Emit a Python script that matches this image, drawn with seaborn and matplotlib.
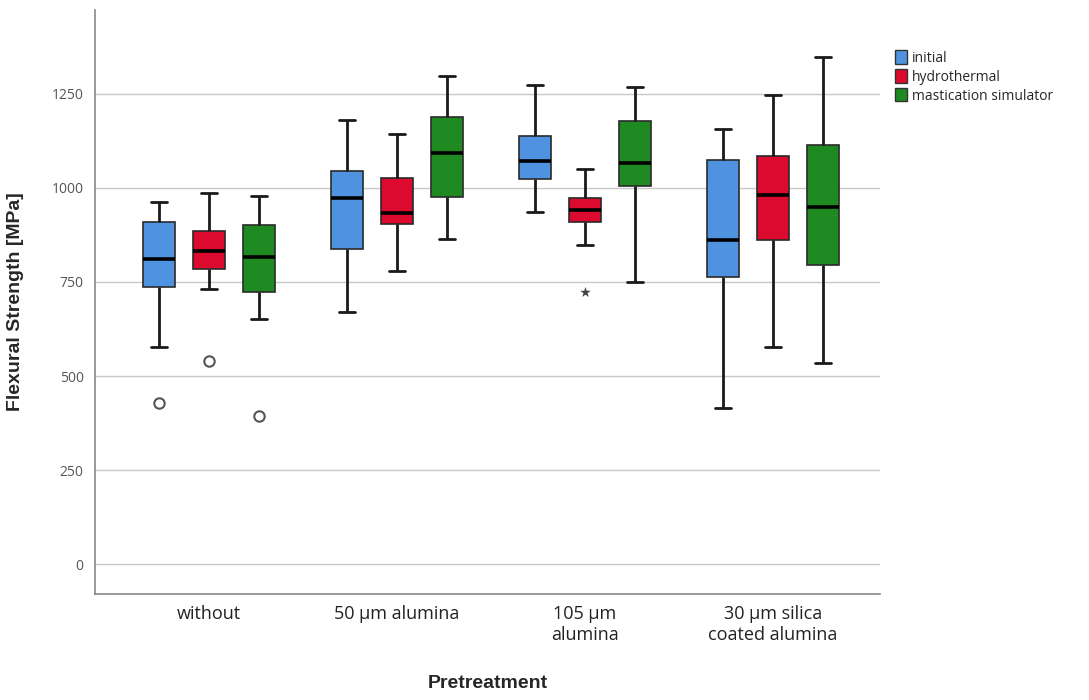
import pandas as pd
import matplotlib
matplotlib.use("Agg")
import matplotlib.pyplot as plt
import seaborn as sns
from matplotlib.patches import Patch

pretreatments = ["without", "50 µm alumina", "105 µm\nalumina", "30 µm silica\ncoated alumina"]
agings = ["initial", "hydrothermal", "mastication simulator"]
colors = ["#4f93e0", "#dc0a2e", "#1f8a22"]

# per pretreatment: lower whisker, Q1, median, Q3, upper whisker
initial = [[576, 737, 811, 908, 963], [669, 837, 974, 1045, 1180],
           [935, 1023, 1070, 1138, 1273], [414, 762, 862, 1074, 1156]]
hydrothermal = [[731, 784, 833, 886, 986], [778, 904, 933, 1026, 1144],
                [848, 910, 941, 974, 1050], [576, 862, 980, 1085, 1246]]
mastication = [[652, 724, 815, 902, 977], [864, 975, 1092, 1188, 1296],
               [751, 1005, 1067, 1178, 1268], [534, 794, 950, 1114, 1348]]

# outliers (circles) and extremes (stars)
outlier_pre = ["without", "without", "without"]
outlier_aging = ["initial", "hydrothermal", "mastication simulator"]
outlier_value = [427, 541, 394]
extreme_pre = ["105 µm\nalumina"]
extreme_aging = ["hydrothermal"]
extreme_value = [724]

yticks = [0, 250, 500, 750, 1000, 1250]


def build_frame():
    rows = []
    for aging, stats in zip(agings, [initial, hydrothermal, mastication]):
        for pre, vals in zip(pretreatments, stats):
            for v in vals:
                rows.append({"pretreatment": pre, "aging": aging, "strength": v})
    return pd.DataFrame(rows)


def main():
    sns.set_theme(style="white")
    plt.rcParams["font.family"] = ["Open Sans", "DejaVu Sans"]

    df = build_frame()
    out = pd.DataFrame({"pretreatment": outlier_pre, "aging": outlier_aging, "strength": outlier_value})
    ext = pd.DataFrame({"pretreatment": extreme_pre, "aging": extreme_aging, "strength": extreme_value})

    fig = plt.figure(figsize=(10.89, 7), dpi=100)
    ax = fig.add_axes([0.087, 0.151, 0.721, 0.835])
    ax.yaxis.grid(True, color="#c8c8c8", linewidth=1)
    ax.set_axisbelow(True)

    sns.boxplot(data=df, x="pretreatment", y="strength", hue="aging",
                order=pretreatments, hue_order=agings, palette=colors,
                whis=(0, 100), width=0.8, gap=0.36, linewidth=1.2,
                linecolor="#2a2a2a", showfliers=False, saturation=1,
                medianprops=dict(color="black", linewidth=2.6),
                whiskerprops=dict(color="#1a1a1a", linewidth=2),
                capprops=dict(color="#1a1a1a", linewidth=2),
                legend=False, ax=ax)

    sns.stripplot(data=out, x="pretreatment", y="strength", hue="aging",
                  order=pretreatments, hue_order=agings, palette=["white"] * 3,
                  dodge=True, jitter=False, marker="o", size=7.5,
                  edgecolor="#555555", linewidth=1.5, legend=False, ax=ax)
    sns.stripplot(data=ext, x="pretreatment", y="strength", hue="aging",
                  order=pretreatments, hue_order=agings, palette=["#444444"] * 3,
                  dodge=True, jitter=False, marker="*", size=8,
                  legend=False, ax=ax)

    ax.set_xlim(-0.61, 3.57)
    ax.set_ylim(-80, 1473)
    ax.set_yticks(yticks)
    ax.set_yticklabels([str(t) for t in yticks], color="#555555", fontsize=10)
    ax.tick_params(axis="y", length=4, color="#888888", pad=4)
    ax.tick_params(axis="x", length=0, pad=8, labelsize=13, labelcolor="#222222")

    for side in ["top", "right"]:
        ax.spines[side].set_visible(False)
    for side in ["left", "bottom"]:
        ax.spines[side].set_color("#888888")
        ax.spines[side].set_linewidth(1.2)

    ax.set_xlabel("Pretreatment", fontsize=14, fontweight="bold",
                  family=["Liberation Sans", "DejaVu Sans"], labelpad=22)
    ax.set_ylabel("Flexural Strength [MPa]", fontsize=14, fontweight="bold",
                  family=["Liberation Sans", "DejaVu Sans"], labelpad=20)

    handles = [Patch(facecolor=c, edgecolor="#333333", linewidth=1) for c in colors]
    ax.legend(handles, agings, loc="upper left", bbox_to_anchor=(1.012, 0.94),
              frameon=False, fontsize=10, handlelength=0.9, handleheight=1.1,
              handletextpad=0.3, labelspacing=0.25, borderaxespad=0)

    fig.savefig("out.png", dpi=100)


if __name__ == "__main__":
    main()
